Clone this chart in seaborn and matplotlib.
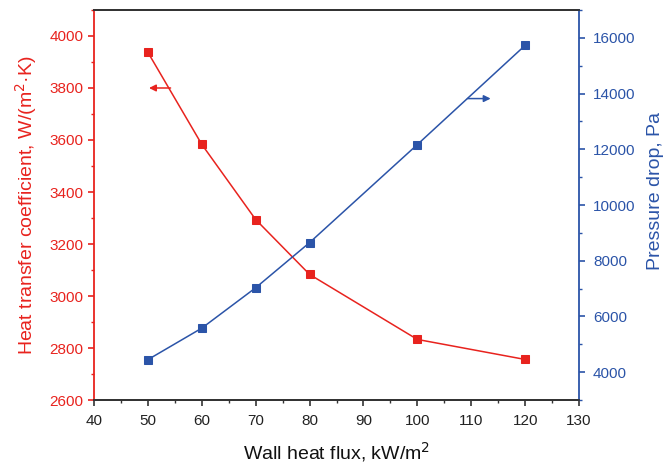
import matplotlib
matplotlib.use("Agg")
import matplotlib.pyplot as plt
from matplotlib.ticker import MultipleLocator
import pandas as pd
import seaborn as sns

sns.set_theme(style="white")
plt.rcParams["font.family"] = ["Liberation Sans", "DejaVu Sans"]

# Wall heat flux, kW/m^2
heat_flux = [50, 60, 70, 80, 100, 120]
# Heat transfer coefficient, W/(m^2 K)
htc = [3937, 3583, 3294, 3083, 2833, 2756]
# Pressure drop, Pa
pressure_drop = [4450, 5580, 7030, 8650, 12170, 15730]

RED = "#e8231e"
BLUE = "#2b54a8"
DARK = "#333333"

df = pd.DataFrame({"flux": heat_flux, "htc": htc, "dp": pressure_drop})

fig = plt.figure(figsize=(6.65, 4.71), dpi=100)
ax = fig.add_axes([0.1414, 0.1507, 0.7293, 0.8281])
ax2 = ax.twinx()

sns.lineplot(data=df, x="flux", y="htc", ax=ax, color=RED, marker="s",
             markersize=6, linewidth=1.1, markeredgecolor=RED)
sns.lineplot(data=df, x="flux", y="dp", ax=ax2, color=BLUE, marker="s",
             markersize=6, linewidth=1.1, markeredgecolor=BLUE)

ax.set_xlim(40, 130)
ax.set_ylim(2600, 4100)
ax2.set_ylim(3000, 17000)

ax.xaxis.set_major_locator(MultipleLocator(10))
ax.xaxis.set_minor_locator(MultipleLocator(5))
ax.yaxis.set_major_locator(MultipleLocator(200))
ax.yaxis.set_minor_locator(MultipleLocator(100))
ax2.yaxis.set_major_locator(MultipleLocator(2000))
ax2.yaxis.set_minor_locator(MultipleLocator(1000))
ax2.set_yticks(range(4000, 16001, 2000))

for a in (ax, ax2):
    for s in a.spines.values():
        s.set_linewidth(1.3)
        s.set_color(DARK)
ax.spines["left"].set_color(RED)
ax2.spines["left"].set_visible(False)
ax2.spines["right"].set_color(BLUE)
ax.spines["right"].set_visible(False)

ax.tick_params(axis="x", which="major", direction="out", length=4, width=1.2,
               color=DARK, labelcolor="#222222", labelsize=11, bottom=True, pad=6)
ax.tick_params(axis="x", which="minor", direction="out", length=2.5, width=1.0,
               color=DARK, bottom=True)
ax.tick_params(axis="y", which="major", direction="out", length=4, width=1.2,
               color=RED, labelcolor=RED, labelsize=11, left=True)
ax.tick_params(axis="y", which="minor", direction="out", length=2.5, width=1.0,
               color=RED, left=True)
ax2.tick_params(axis="y", which="major", direction="out", length=4, width=1.2,
                color=BLUE, labelcolor=BLUE, labelsize=11, right=True, pad=6)
ax2.tick_params(axis="y", which="minor", direction="out", length=2.5, width=1.0,
                color=BLUE, right=True)

ax.set_xlabel("Wall heat flux, kW/m$^2$", fontsize=14, color="#111111", labelpad=9)
ax.set_ylabel("Heat transfer coefficient, W/(m$^2$·K)", fontsize=14, color=RED, labelpad=8)
ax2.set_ylabel("Pressure drop, Pa", fontsize=14, color=BLUE)
ax2.yaxis.set_label_coords(1.141, 0.536)

# Arrows pointing each curve to its axis
ax.annotate("", xy=(50.2, 3800), xytext=(54.2, 3800),
            arrowprops=dict(arrowstyle="-|>", color=RED, lw=1.1,
                            mutation_scale=10, shrinkA=0, shrinkB=0))
ax2.annotate("", xy=(113.6, 13820), xytext=(109.3, 13820),
             arrowprops=dict(arrowstyle="-|>", color=BLUE, lw=1.1,
                             mutation_scale=10, shrinkA=0, shrinkB=0))

fig.savefig("out.png", dpi=100)
